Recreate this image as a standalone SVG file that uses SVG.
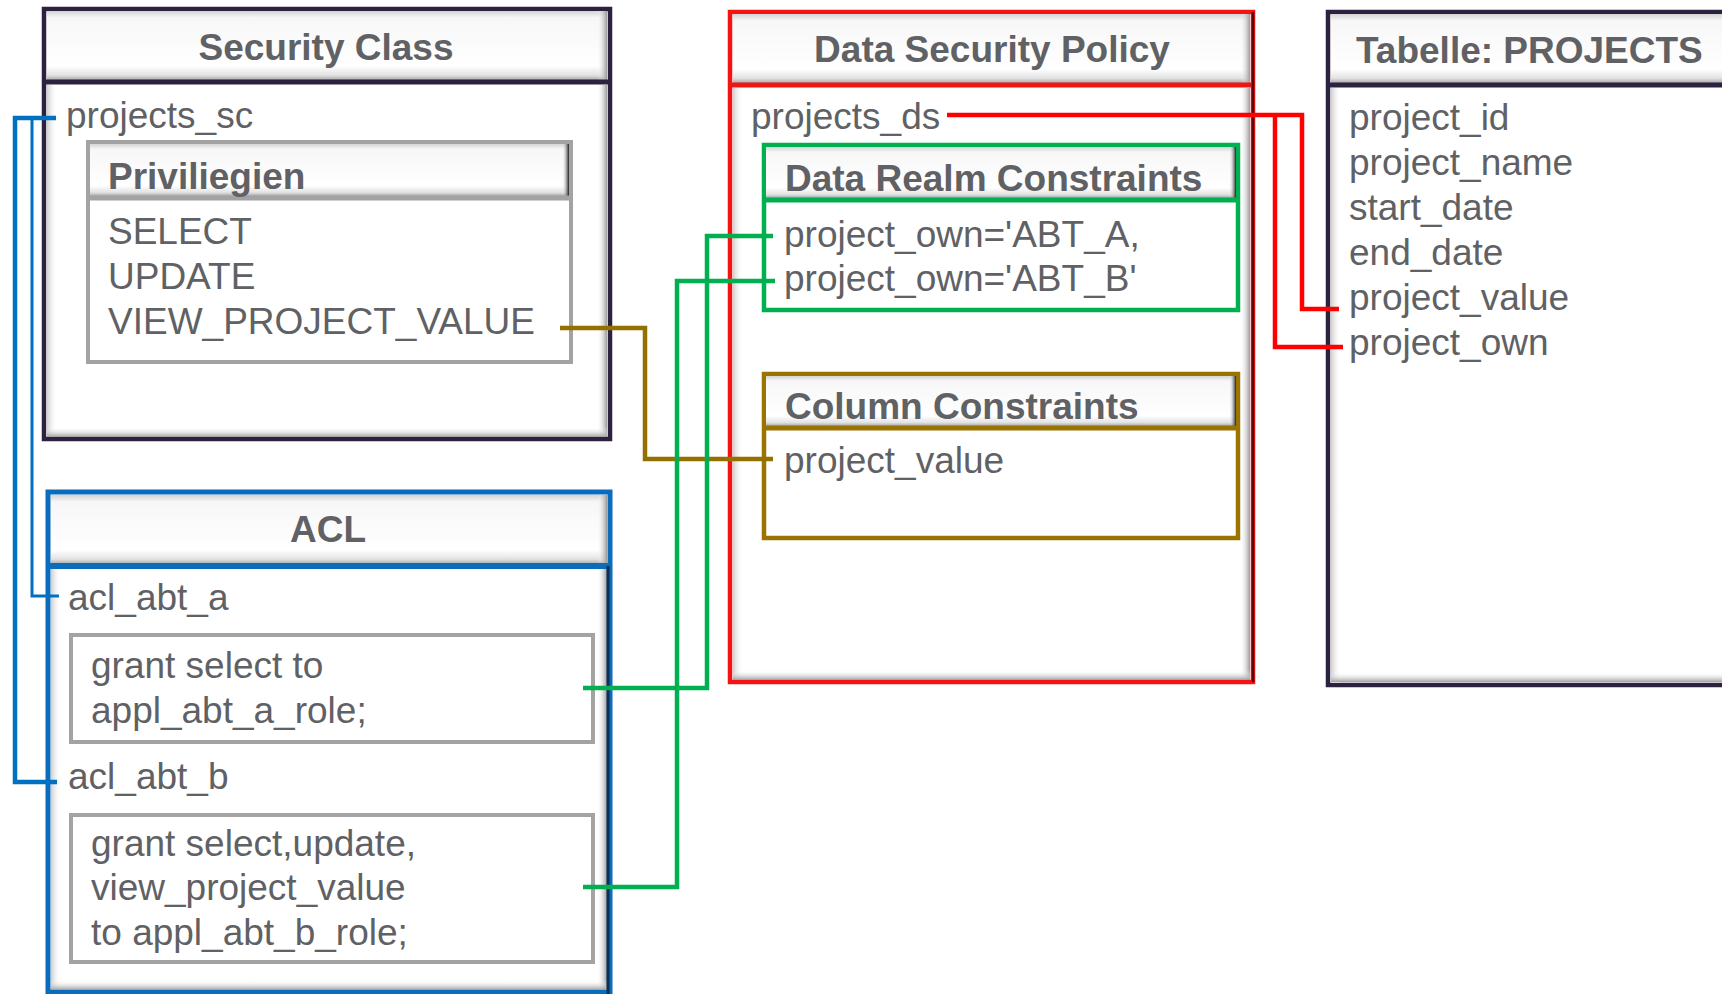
<svg xmlns="http://www.w3.org/2000/svg" width="1722" height="994" viewBox="0 0 1722 994">
<defs>
<linearGradient id="hdr" x1="0" y1="0" x2="0" y2="1">
<stop offset="0" stop-color="#d4d4d4"/><stop offset="0.1" stop-color="#f7f7f7"/><stop offset="0.8" stop-color="#ffffff"/><stop offset="0.93" stop-color="#e2e2e2"/><stop offset="1" stop-color="#a8a8a8"/>
</linearGradient>
<linearGradient id="rE" x1="0" y1="0" x2="1" y2="0"><stop offset="0" stop-color="#ffffff" stop-opacity="0"/><stop offset="1" stop-color="#9a9a9a"/></linearGradient>
<linearGradient id="lE" x1="0" y1="0" x2="1" y2="0"><stop offset="0" stop-color="#cfcfcf"/><stop offset="1" stop-color="#ffffff" stop-opacity="0"/></linearGradient>
<linearGradient id="bE" x1="0" y1="0" x2="0" y2="1"><stop offset="0" stop-color="#ffffff" stop-opacity="0"/><stop offset="1" stop-color="#a0a0a0"/></linearGradient>
<linearGradient id="dk" x1="0" y1="0" x2="1" y2="0"><stop offset="0" stop-color="#ffffff" stop-opacity="0"/><stop offset="1" stop-color="#1e1e1e"/></linearGradient>
</defs>
<style>
.t{font-family:"Liberation Sans",Arial,sans-serif;font-size:37px;fill:#606164}
.b{font-weight:bold}
.m{text-anchor:middle}
.box{fill:#ffffff}
.c{fill:none;stroke-linejoin:miter;stroke-linecap:butt}
</style>
<rect x="0" y="0" width="1722" height="994" fill="#ffffff"/>

<g id="security-class">
<rect class="box" x="44" y="9" width="566" height="430" stroke="#2d2140" stroke-width="4.5"/>
<rect x="47" y="11" width="560" height="69" fill="url(#hdr)"/>
<rect x="597" y="11" width="10" height="69" fill="url(#rE)"/>
<rect x="47" y="85" width="10" height="352" fill="url(#lE)"/>
<rect x="597" y="85" width="10" height="352" fill="url(#rE)"/>
<rect x="47" y="427" width="560" height="10" fill="url(#bE)"/>
<line x1="44" y1="82" x2="610" y2="82" stroke="#2d2140" stroke-width="5"/>
<text class="t b m" x="326" y="60">Security Class</text>
<text class="t" x="66" y="128">projects_sc</text>
</g>

<g id="priviliegien">
<rect class="box" x="88" y="142" width="483" height="220" stroke="#a3a3a3" stroke-width="4"/>
<rect x="90" y="144" width="479" height="52" fill="url(#hdr)"/>
<rect x="562" y="144" width="7" height="52" fill="url(#dk)"/>
<line x1="88" y1="198" x2="571" y2="198" stroke="#a3a3a3" stroke-width="5"/>
<text class="t b" x="108" y="189">Priviliegien</text>
<text class="t" x="108" y="244">SELECT</text>
<text class="t" x="108" y="289">UPDATE</text>
<text class="t" x="108" y="334">VIEW_PROJECT_VALUE</text>
</g>

<g id="acl">
<rect class="box" x="48" y="492" width="562" height="500" stroke="#0c6cbc" stroke-width="5"/>
<rect x="51" y="495" width="556" height="69" fill="url(#hdr)"/>
<rect x="597" y="495" width="10" height="69" fill="url(#rE)"/>
<rect x="51" y="569" width="10" height="420" fill="url(#lE)"/>
<rect x="597" y="569" width="10" height="420" fill="url(#rE)"/>
<rect x="51" y="980" width="556" height="10" fill="url(#bE)"/>
<line x1="48" y1="566" x2="610" y2="566" stroke="#0c6cbc" stroke-width="6"/>
<line x1="608" y1="566" x2="608" y2="994" stroke="#0c2f55" stroke-width="3"/>
<text class="t b m" x="328" y="542">ACL</text>
<text class="t" x="68" y="610">acl_abt_a</text>
<text class="t" x="68" y="789">acl_abt_b</text>
</g>

<g id="acl-grant-a">
<rect class="box" x="71" y="635" width="522" height="107" stroke="#a3a3a3" stroke-width="4"/>
<text class="t" x="91" y="678">grant select to</text>
<text class="t" x="91" y="723">appl_abt_a_role;</text>
</g>

<g id="acl-grant-b">
<rect class="box" x="71" y="815" width="522" height="147" stroke="#a3a3a3" stroke-width="4"/>
<text class="t" x="91" y="856">grant select,update,</text>
<text class="t" x="91" y="900">view_project_value</text>
<text class="t" x="91" y="945">to appl_abt_b_role;</text>
</g>

<g id="data-security-policy">
<rect class="box" x="730" y="12" width="523" height="670" stroke="#f01414" stroke-width="4.5"/>
<rect x="733" y="14" width="517" height="69" fill="url(#hdr)"/>
<rect x="1240" y="14" width="10" height="69" fill="url(#rE)"/>
<rect x="733" y="88" width="10" height="592" fill="url(#lE)"/>
<rect x="1240" y="88" width="10" height="592" fill="url(#rE)"/>
<rect x="733" y="670" width="517" height="10" fill="url(#bE)"/>
<line x1="730" y1="85" x2="1253" y2="85" stroke="#f01414" stroke-width="5"/>
<line x1="1253" y1="12" x2="1253" y2="682" stroke="#5a0a0a" stroke-width="2.5"/>
<text class="t b m" x="992" y="62">Data Security Policy</text>
<text class="t" x="751" y="129">projects_ds</text>
</g>

<g id="data-realm-constraints">
<rect class="box" x="764" y="145" width="474" height="165" stroke="#00b050" stroke-width="4.5"/>
<rect x="766" y="147" width="470" height="51" fill="url(#hdr)"/>
<rect x="1229" y="147" width="7" height="51" fill="url(#dk)"/>
<line x1="764" y1="200" x2="1238" y2="200" stroke="#00b050" stroke-width="5"/>
<text class="t b" x="785" y="191">Data Realm Constraints</text>
<text class="t" x="784" y="247">project_own='ABT_A,</text>
<text class="t" x="784" y="291">project_own='ABT_B'</text>
</g>

<g id="column-constraints">
<rect class="box" x="764" y="374" width="474" height="164" stroke="#9a7300" stroke-width="4.5"/>
<rect x="766" y="376" width="470" height="50" fill="url(#hdr)"/>
<rect x="1229" y="376" width="7" height="50" fill="url(#dk)"/>
<line x1="764" y1="428" x2="1238" y2="428" stroke="#9a7300" stroke-width="5"/>
<text class="t b" x="785" y="419">Column Constraints</text>
<text class="t" x="784" y="473">project_value</text>
</g>

<g id="table-projects">
<rect class="box" x="1328" y="12" width="420" height="673" stroke="#2d2140" stroke-width="4.5"/>
<rect x="1331" y="14" width="400" height="69" fill="url(#hdr)"/>
<rect x="1331" y="88" width="10" height="595" fill="url(#lE)"/>
<rect x="1331" y="672" width="400" height="10" fill="url(#bE)"/>
<line x1="1328" y1="85" x2="1722" y2="85" stroke="#2d2140" stroke-width="5"/>
<text class="t b" x="1356" y="63">Tabelle: PROJECTS</text>
<text class="t" x="1349" y="130">project_id</text>
<text class="t" x="1349" y="175">project_name</text>
<text class="t" x="1349" y="220">start_date</text>
<text class="t" x="1349" y="265">end_date</text>
<text class="t" x="1349" y="310">project_value</text>
<text class="t" x="1349" y="355">project_own</text>
</g>

<g id="connectors">
<polyline class="c" points="56,118 15,118 15,782 57,782" stroke="#0070c0" stroke-width="4.5"/>
<polyline class="c" points="32,118 32,596 59,596" stroke="#0070c0" stroke-width="3"/>
<polyline class="c" points="560,328 645,328 645,459 773,459" stroke="#937000" stroke-width="4.5"/>
<polyline class="c" points="583,688 707,688 707,236 773,236" stroke="#00b050" stroke-width="4.5"/>
<polyline class="c" points="583,887 677,887 677,281 775,281" stroke="#00b050" stroke-width="4.5"/>
<polyline class="c" points="947,115 1302,115 1302,309 1339,309" stroke="#ff0000" stroke-width="4.5"/>
<polyline class="c" points="1275,115 1275,347 1343,347" stroke="#ff0000" stroke-width="4.5"/>
</g>
</svg>
